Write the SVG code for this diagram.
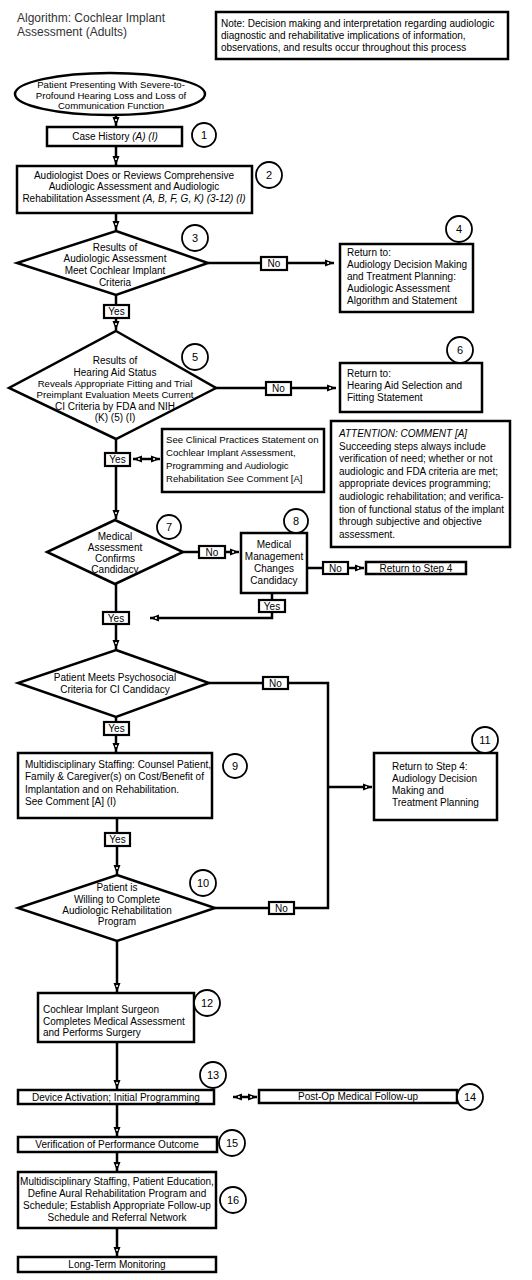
<svg xmlns="http://www.w3.org/2000/svg" width="532" height="1280" viewBox="0 0 532 1280">
<defs>
<marker id="ah" markerUnits="userSpaceOnUse" markerWidth="10" markerHeight="8" refX="9" refY="4" orient="auto-start-reverse">
<path d="M0,0.5 L9,4 L0,7.5 z" fill="#000"/>
<circle cx="3" cy="4" r="1.1" fill="#fff"/>
</marker>
</defs>
<style>
text{font-family:"Liberation Sans",Arial,sans-serif;font-size:10px;fill:#000}
.t{font-size:12px;fill:#333}
.c{text-anchor:middle}
.s{font-size:9.6px}
.box{fill:#fff;stroke:#000;stroke-width:2.5}
.lbl{fill:#fff;stroke:#000;stroke-width:2.2}
.num{fill:#fff;stroke:#000;stroke-width:1.8}
.n{font-size:11px;text-anchor:middle}
.ln{fill:none;stroke:#000;stroke-width:2.5}
.i{font-style:italic}
</style>
<rect width="532" height="1280" fill="#fff"/>

<g id="title">
<text class="t" x="17" y="22">Algorithm: Cochlear Implant</text>
<text class="t" x="17" y="36">Assessment (Adults)</text>
</g>

<g id="note">
<rect class="box" x="216" y="12" width="292" height="47"/>
<text x="221" y="27">Note: Decision making and interpretation regarding audiologic</text>
<text x="221" y="39">diagnostic and rehabilitative implications of information,</text>
<text x="221" y="51">observations, and results occur throughout this process</text>
</g>

<g id="connectors">
<path class="ln" d="M116,115 V126" marker-end="url(#ah)"/>
<path class="ln" d="M116,147 V165" marker-end="url(#ah)"/>
<path class="ln" d="M116,213 V230" marker-end="url(#ah)"/>
<path class="ln" d="M208,263 H334" marker-end="url(#ah)"/>
<path class="ln" d="M116,295 V330" marker-end="url(#ah)"/>
<path class="ln" d="M215,388 H336" marker-end="url(#ah)"/>
<path class="ln" d="M116,439 V519" marker-end="url(#ah)"/>
<path class="ln" d="M133,459 H160" marker-start="url(#ah)" marker-end="url(#ah)"/>
<path class="ln" d="M183,552 H239" marker-end="url(#ah)"/>
<path class="ln" d="M307,568 H364" marker-end="url(#ah)"/>
<path class="ln" d="M272,593 V618 H150" marker-end="url(#ah)"/>
<path class="ln" d="M116,584 V649" marker-end="url(#ah)"/>
<path class="ln" d="M209,683 H328 V908 H215"/>
<path class="ln" d="M328,787 H372" marker-end="url(#ah)"/>
<path class="ln" d="M116,717 V752" marker-end="url(#ah)"/>
<path class="ln" d="M117,818 V874" marker-end="url(#ah)"/>
<path class="ln" d="M117,941 V992" marker-end="url(#ah)"/>
<path class="ln" d="M117,1042 V1089" marker-end="url(#ah)"/>
<path class="ln" d="M233,1097 H257" marker-start="url(#ah)" marker-end="url(#ah)"/>
<path class="ln" d="M117,1104 V1136" marker-end="url(#ah)"/>
<path class="ln" d="M117,1152 V1171" marker-end="url(#ah)"/>
<path class="ln" d="M117,1228 V1256" marker-end="url(#ah)"/>
</g>

<g id="labels">
<rect class="lbl" x="261" y="257" width="26" height="13"/><text class="c" x="274" y="267">No</text>
<rect class="lbl" x="104" y="305" width="25" height="13"/><text class="c" x="116.5" y="315">Yes</text>
<rect class="lbl" x="266" y="382" width="25" height="13"/><text class="c" x="278.5" y="392">No</text>
<rect class="lbl" x="105" y="453" width="25" height="13"/><text class="c" x="117.5" y="463">Yes</text>
<rect class="lbl" x="199" y="546" width="26" height="12"/><text class="c" x="212" y="556">No</text>
<rect class="lbl" x="323" y="562" width="25" height="12"/><text class="c" x="335.5" y="572">No</text>
<rect class="lbl" x="259" y="600" width="26" height="12"/><text class="c" x="272" y="610">Yes</text>
<rect class="lbl" x="103" y="612" width="26" height="12"/><text class="c" x="116" y="622">Yes</text>
<rect class="lbl" x="263" y="677" width="25" height="12"/><text class="c" x="275.5" y="687">No</text>
<rect class="lbl" x="104" y="722" width="25" height="13"/><text class="c" x="116.5" y="732">Yes</text>
<rect class="lbl" x="105" y="833" width="25" height="13"/><text class="c" x="117.5" y="843">Yes</text>
<rect class="lbl" x="269" y="902" width="25" height="12"/><text class="c" x="281.5" y="912">No</text>
</g>

<g id="start">
<ellipse class="box" cx="110" cy="94" rx="95" ry="21"/>
<text class="c s" x="111" y="88">Patient Presenting With Severe-to-</text>
<text class="c s" x="111" y="98.5">Profound Hearing Loss and Loss of</text>
<text class="c s" x="111" y="109">Communication Function</text>
</g>

<g id="n1">
<rect class="box" x="47" y="127" width="135" height="19"/>
<text class="c" x="115" y="140">Case History <tspan class="i">(A) (I)</tspan></text>
<circle class="num" cx="204" cy="135" r="12"/><text class="n" x="204" y="139">1</text>
</g>

<g id="n2">
<rect class="box" x="17" y="166" width="235" height="47"/>
<text class="c" x="134" y="179">Audiologist Does or Reviews Comprehensive</text>
<text class="c" x="134" y="190">Audiologic Assessment and Audiologic</text>
<text class="c" x="134" y="202">Rehabilitation Assessment <tspan class="i">(A, B, F, G, K) (3-12) (I)</tspan></text>
<circle class="num" cx="269" cy="175" r="13"/><text class="n" x="269" y="179">2</text>
</g>

<g id="n3">
<path class="box" d="M116,231 L208,263 L116,295 L17,263 z"/>
<text class="c" x="115" y="251">Results of</text>
<text class="c" x="115" y="262">Audiologic Assessment</text>
<text class="c" x="115" y="274">Meet Cochlear Implant</text>
<text class="c" x="115" y="286">Criteria</text>
<circle class="num" cx="195" cy="238" r="13"/><text class="n" x="195" y="242">3</text>
</g>

<g id="n4">
<rect class="box" x="340" y="244" width="133" height="68"/>
<text x="347" y="256">Return to:</text>
<text x="347" y="268">Audiology Decision Making</text>
<text x="347" y="280">and Treatment Planning:</text>
<text x="347" y="292">Audiologic Assessment</text>
<text x="347" y="304">Algorithm and Statement</text>
<circle class="num" cx="459" cy="229" r="13"/><text class="n" x="459" y="233">4</text>
</g>

<g id="n5">
<path class="box" d="M116,331 L216,388 L116,439 L9,388 z"/>
<text class="c" x="115" y="364">Results of</text>
<text class="c" x="115" y="376">Hearing Aid Status</text>
<text class="c s" x="115" y="387">Reveals Appropriate Fitting and Trial</text>
<text class="c s" x="115" y="398">Preimplant Evaluation Meets Current</text>
<text class="c" x="115" y="410">CI Criteria by FDA and NIH</text>
<text class="c" x="115" y="421">(K) (5) (I)</text>
<circle class="num" cx="195" cy="357" r="13"/><text class="n" x="195" y="361">5</text>
</g>

<g id="n6">
<rect class="box" x="340" y="363" width="142" height="49"/>
<text x="347" y="377">Return to:</text>
<text x="347" y="389">Hearing Aid Selection and</text>
<text x="347" y="401">Fitting Statement</text>
<circle class="num" cx="460" cy="350" r="13"/><text class="n" x="460" y="354">6</text>
</g>

<g id="see">
<rect class="box" x="162" y="429" width="162" height="63"/>
<text class="s" x="166" y="443">See Clinical Practices Statement on</text>
<text class="s" x="166" y="456">Cochlear Implant Assessment,</text>
<text class="s" x="166" y="469">Programming and Audiologic</text>
<text class="s" x="166" y="482">Rehabilitation See Comment [A]</text>
</g>

<g id="attention">
<rect class="box" x="331" y="421" width="179" height="126"/>
<text class="i" x="339" y="437">ATTENTION: COMMENT [A]</text>
<text x="339" y="450">Succeeding steps always include</text>
<text x="339" y="462">verification of need; whether or not</text>
<text x="339" y="475">audiologic and FDA criteria are met;</text>
<text x="339" y="487">appropriate devices programming;</text>
<text x="339" y="500">audiologic rehabilitation; and verifica-</text>
<text x="339" y="513">tion of functional status of the implant</text>
<text x="339" y="525">through subjective and objective</text>
<text x="339" y="538">assessment.</text>
</g>

<g id="n7">
<path class="box" d="M115,520 L183,552 L115,584 L47,552 z"/>
<text class="c" x="115" y="540">Medical</text>
<text class="c" x="115" y="551">Assessment</text>
<text class="c" x="115" y="562">Confirms</text>
<text class="c" x="115" y="573">Candidacy</text>
<circle class="num" cx="169" cy="527" r="12"/><text class="n" x="169" y="531">7</text>
</g>

<g id="n8">
<rect class="box" x="241" y="533" width="66" height="60"/>
<text class="c" x="274" y="548">Medical</text>
<text class="c" x="274" y="560">Management</text>
<text class="c" x="274" y="572">Changes</text>
<text class="c" x="274" y="584">Candidacy</text>
<circle class="num" cx="296" cy="521" r="12"/><text class="n" x="296" y="525">8</text>
</g>

<g id="step4">
<rect class="box" x="366" y="562" width="100" height="12"/>
<text class="c" x="416" y="572">Return to Step 4</text>
</g>

<g id="psych">
<path class="box" d="M116,650 L209,683 L116,717 L18,683 z"/>
<text class="c" x="115" y="681">Patient Meets Psychosocial</text>
<text class="c" x="115" y="693">Criteria for CI Candidacy</text>
</g>

<g id="n9">
<rect class="box" x="18" y="753" width="194" height="65"/>
<text x="25" y="768">Multidisciplinary Staffing: Counsel Patient,</text>
<text x="25" y="780">Family &amp; Caregiver(s) on Cost/Benefit of</text>
<text x="25" y="793">Implantation and on Rehabilitation.</text>
<text x="25" y="805">See Comment [A] (I)</text>
<circle class="num" cx="235" cy="766" r="12"/><text class="n" x="235" y="770">9</text>
</g>

<g id="n11">
<rect class="box" x="374" y="753" width="123" height="67"/>
<text x="392" y="770">Return to Step 4:</text>
<text x="392" y="782">Audiology Decision</text>
<text x="392" y="794">Making and</text>
<text x="392" y="806">Treatment Planning</text>
<circle class="num" cx="485" cy="740" r="13"/><text class="n" x="485" y="744">11</text>
</g>

<g id="n10">
<path class="box" d="M117,875 L215,908 L117,941 L18,908 z"/>
<text class="c" x="117" y="891">Patient is</text>
<text class="c" x="117" y="903">Willing to Complete</text>
<text class="c" x="117" y="914">Audiologic Rehabilitation</text>
<text class="c" x="117" y="925">Program</text>
<circle class="num" cx="203" cy="883" r="13"/><text class="n" x="203" y="887">10</text>
</g>

<g id="n12">
<rect class="box" x="38" y="993" width="156" height="49"/>
<text x="43" y="1013">Cochlear Implant Surgeon</text>
<text x="43" y="1025">Completes Medical Assessment</text>
<text x="43" y="1036">and Performs Surgery</text>
<circle class="num" cx="207" cy="1003" r="13"/><text class="n" x="207" y="1007">12</text>
</g>

<g id="n13">
<rect class="box" x="18" y="1090" width="196" height="14"/>
<text class="c" x="116" y="1101">Device Activation; Initial Programming</text>
<circle class="num" cx="213" cy="1075" r="13"/><text class="n" x="213" y="1079">13</text>
</g>

<g id="n14">
<rect class="box" x="259" y="1090" width="198" height="13"/>
<text class="c" x="358" y="1100">Post-Op Medical Follow-up</text>
<circle class="num" cx="470" cy="1097" r="13"/><text class="n" x="470" y="1101">14</text>
</g>

<g id="n15">
<rect class="box" x="18" y="1137" width="199" height="15"/>
<text class="c" x="117" y="1148">Verification of Performance Outcome</text>
<circle class="num" cx="232" cy="1143" r="13"/><text class="n" x="232" y="1147">15</text>
</g>

<g id="n16">
<rect class="box" x="18" y="1172" width="198" height="56"/>
<text class="c" x="117" y="1185">Multidisciplinary Staffing, Patient Education,</text>
<text class="c" x="117" y="1197">Define Aural Rehabilitation Program and</text>
<text class="c" x="117" y="1209">Schedule; Establish Appropriate Follow-up</text>
<text class="c" x="117" y="1221">Schedule and Referral Network</text>
<circle class="num" cx="233" cy="1200" r="13"/><text class="n" x="233" y="1204">16</text>
</g>

<g id="n17">
<rect class="box" x="18" y="1257" width="198" height="15"/>
<text class="c" x="117" y="1268">Long-Term Monitoring</text>
</g>
</svg>
